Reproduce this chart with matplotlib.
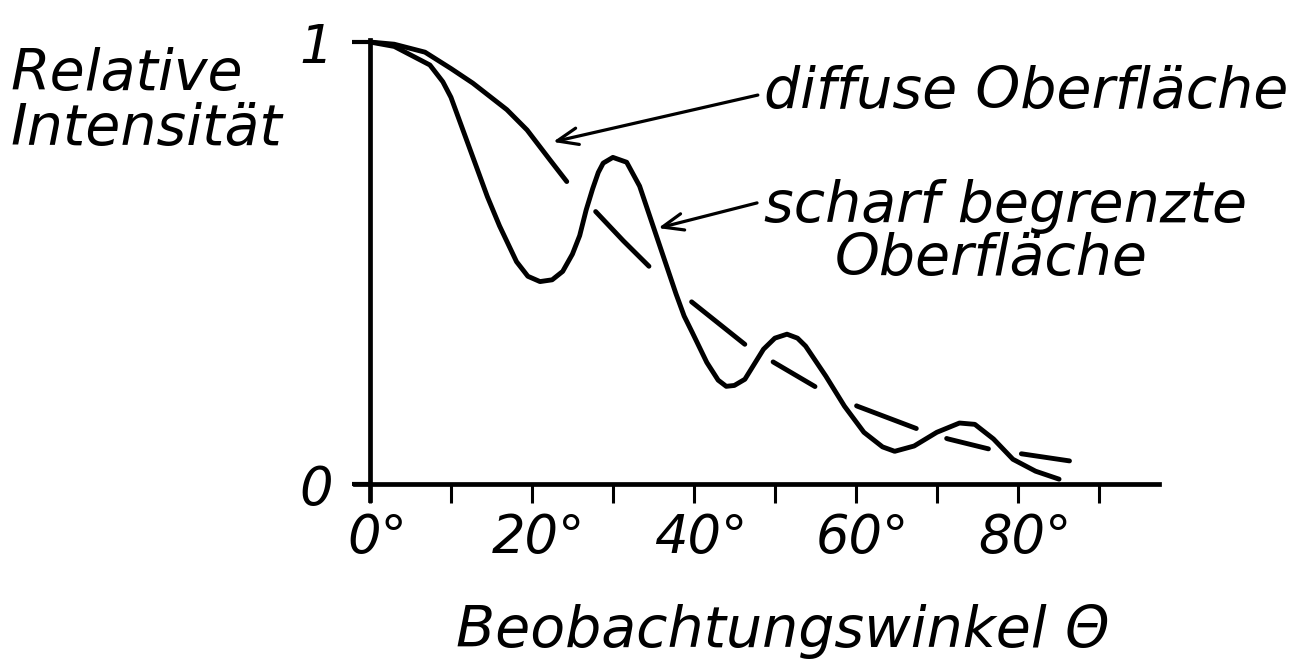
import matplotlib
matplotlib.use('Agg')
import matplotlib.pyplot as plt
from matplotlib.transforms import ScaledTranslation

# 数据
angle_sharp = [0, 3, 7.4, 9.0, 10.0, 11.0, 12.7, 14.5, 16.0, 18.1, 19.5, 21.0, 22.5, 23.8,
               25.0, 25.9, 26.7, 27.5, 28.2, 28.8, 30.0, 31.7, 33.3, 35.4, 36.6, 37.8,
               38.8, 39.8, 41.6, 43.0, 44.0, 45.0, 46.3, 48.6, 50.0, 51.5, 52.8, 53.8,
               56.3, 58.6, 61.0, 63.3, 64.8, 67.2, 70.0, 72.8, 74.7, 77.0, 79.4, 82.2, 85.1]
int_sharp = [1.0, 0.99, 0.948, 0.91, 0.875, 0.825, 0.74, 0.65, 0.584, 0.503, 0.47, 0.458,
             0.462, 0.481, 0.52, 0.562, 0.62, 0.668, 0.705, 0.726, 0.739, 0.728, 0.674,
             0.56, 0.495, 0.43, 0.38, 0.343, 0.275, 0.235, 0.221, 0.223, 0.237, 0.305,
             0.33, 0.339, 0.33, 0.312, 0.244, 0.176, 0.117, 0.084, 0.074, 0.086, 0.117,
             0.138, 0.135, 0.102, 0.056, 0.029, 0.011]

angle_diffuse = [0, 3, 6.8, 10, 12.7, 16.9, 19.4, 22.2, 24.4, 28.0, 31.3, 34.6, 39.8,
                 46.3, 49.9, 55.1, 60.2, 67.7, 71.4, 76.5, 80.6, 86.5]
int_diffuse = [1.0, 0.995, 0.977, 0.94, 0.907, 0.847, 0.801, 0.734, 0.682, 0.614, 0.55,
               0.49, 0.411, 0.316, 0.275, 0.219, 0.176, 0.124, 0.102, 0.079, 0.068, 0.052]

x_ticks = [0, 10, 20, 30, 40, 50, 60, 70, 80, 90]
x_ticklabels = ['0°', '', '20°', '', '40°', '', '60°', '', '80°', '']
y_ticks = [0, 1]
y_ticklabels = ['0', '1']

plt.rcParams['lines.scale_dashes'] = False
plt.rcParams['font.family'] = ['DejaVu Sans']

fig = plt.figure(figsize=(12.94, 6.65), dpi=100)
fig.patch.set_facecolor('white')
ax = fig.add_axes([340 / 1294, 145 / 665, 830 / 1294, 495 / 665])
ax.set_xlim(-3.7, 98.8)
ax.set_ylim(-0.0814, 1.0385)

lw_curve = 3.5
ax.plot(angle_sharp, int_sharp, color='black', lw=lw_curve,
        solid_capstyle='round', solid_joinstyle='round')
ax.plot(angle_diffuse, int_diffuse, color='black', lw=lw_curve,
        linestyle=(0, (180, 30, 55, 40, 49, 24, 35, 33, 46, 23, 31, 24, 35, 72)),
        dash_capstyle='round', dash_joinstyle='round')

# 坐标轴样式
for side in ['top', 'right']:
    ax.spines[side].set_visible(False)
ax.spines['left'].set_position(('data', 0))
ax.spines['bottom'].set_position(('data', 0))
ax.spines['left'].set_bounds(-0.036, 1.005)
ax.spines['bottom'].set_bounds(-1.9, 97.5)
for side in ['left', 'bottom']:
    ax.spines[side].set_linewidth(3.4)

tick_font = dict(family='DejaVu Sans', style='italic', size=38)
ax.set_xticks(x_ticks)
ax.set_xticklabels(x_ticklabels, fontdict=tick_font)
ax.set_yticks(y_ticks)
ax.set_yticklabels(y_ticklabels, fontdict=tick_font)
ax.tick_params(axis='x', direction='out', length=14, width=2.2, pad=6)
ax.tick_params(axis='y', direction='out', length=13, width=3, pad=14)
shift = ScaledTranslation(7 / 100, 0, fig.dpi_scale_trans)
for lbl in ax.get_xticklabels():
    lbl.set_transform(lbl.get_transform() + shift)
ax.patch.set_alpha(0)

# 箭头
arrow = dict(arrowstyle='->,head_length=1.5,head_width=0.6', color='black', lw=2.3,
             shrinkA=0, shrinkB=0)
ax.annotate('', xy=(22.6, 0.774), xytext=(47.9, 0.880), arrowprops=arrow)
ax.annotate('', xy=(35.6, 0.579), xytext=(47.8, 0.636), arrowprops=arrow)

txt = dict(family='DejaVu Sans', style='italic', size=41, va='baseline')
fig.text(764 / 1294, 1 - 108 / 665, 'diffuse Oberfläche', ha='left', **txt)
fig.text(764 / 1294, 1 - 222 / 665, 'scharf begrenzte', ha='left', **txt)
fig.text(835 / 1294, 1 - 275 / 665, 'Oberfläche', ha='left', **txt)
fig.text(10 / 1294, 1 - 90 / 665, 'Relative', ha='left', **txt)
fig.text(10 / 1294, 1 - 145 / 665, 'Intensität', ha='left', **txt)
fig.text(783 / 1294, 1 - 647 / 665, 'Beobachtungswinkel Θ', ha='center', **txt)

fig.savefig('out.png', dpi=100, facecolor='white')
plt.close(fig)
